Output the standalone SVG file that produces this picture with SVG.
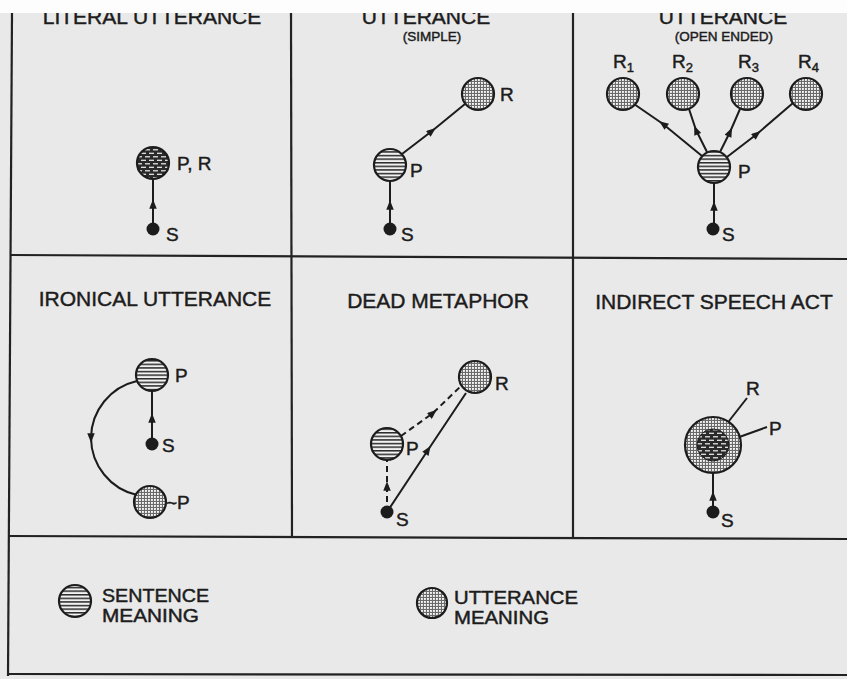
<svg xmlns="http://www.w3.org/2000/svg" width="847" height="679" viewBox="0 0 847 679">
<style>
text{font-family:"Liberation Sans",Arial,sans-serif;fill:#1c1c1c;stroke:#1c1c1c;stroke-width:0.45}
.title{font-size:21px;text-anchor:middle}
.sub{font-size:13.5px;text-anchor:middle}
.lbl{font-size:19px}
.leg{font-size:18px}
.frame{stroke:#222;stroke-width:2.2;fill:none}
.sent{fill:url(#hatch);stroke:#1c1c1c;stroke-width:2.2}
.sentd{fill:url(#hatchd);stroke:#1c1c1c;stroke-width:2.2}
.utt{fill:url(#dots);stroke:#1c1c1c;stroke-width:2.2}
.src{fill:#1c1c1c}
.con{stroke:#1c1c1c;stroke-width:2;fill:none;marker-mid:url(#ah)}
.dash{stroke-dasharray:6 4}
.lead{stroke:#1c1c1c;stroke-width:2;fill:none}
</style>
<defs>
<pattern id="hatch" width="4" height="3.6" patternUnits="userSpaceOnUse"><rect width="4" height="3.6" fill="#f2f2f2"/><rect width="4" height="1.5" fill="#2a2a2a"/></pattern>
<pattern id="hatchd" width="8" height="7" patternUnits="userSpaceOnUse"><rect width="8" height="7" fill="#2a2a2a"/><rect x="1" y="2.2" width="5" height="1.2" fill="#f0f0f0"/><rect x="5" y="5.7" width="3" height="1.2" fill="#f0f0f0"/><rect x="0" y="5.7" width="2" height="1.2" fill="#f0f0f0"/></pattern>
<pattern id="dots" width="3" height="3" patternUnits="userSpaceOnUse"><rect width="3" height="3" fill="#6a6a6a"/><rect x="1" y="1" width="1.9" height="1.9" fill="#f6f6f6"/></pattern>
<marker id="ah" viewBox="0 0 10 8" refX="5" refY="4" markerWidth="11" markerHeight="7.5" markerUnits="userSpaceOnUse" orient="auto"><path d="M0,0 L10,4 L0,8 Z" fill="#1c1c1c"/></marker>
</defs>
<rect width="847" height="679" fill="#e9e9e9"/>
<g id="grid">
<line class="frame" x1="12" y1="13" x2="8" y2="676"/>
<line class="frame" x1="291" y1="13" x2="292" y2="537"/>
<line class="frame" x1="573" y1="13" x2="573" y2="538"/>
<line class="frame" x1="10" y1="255" x2="847" y2="259"/>
<line class="frame" x1="8" y1="536" x2="847" y2="539"/>
<line class="frame" x1="7" y1="674" x2="847" y2="675"/>
</g>
<g id="titles">
<text class="title" x="152" y="24">LITERAL UTTERANCE</text>
<text class="title" x="426" y="24">UTTERANCE</text>
<text class="sub" x="432" y="41">(SIMPLE)</text>
<text class="title" x="723" y="24">UTTERANCE</text>
<text class="sub" x="724" y="41">(OPEN ENDED)</text>
<text class="title" x="155" y="306">IRONICAL UTTERANCE</text>
<text class="title" x="438" y="308">DEAD METAPHOR</text>
<text class="title" x="714" y="309">INDIRECT SPEECH ACT</text>
</g>
<g id="connectors">
<path class="con" d="M153,229 L153,204 L153,179"/>
<path class="con" d="M390,229 L390,205 L390,181"/>
<path class="con" d="M402,154 L432,131 L465,104"/>
<path class="con" d="M714,229 L714,206 L714,183"/>
<path class="con" d="M702,156 L663,124 L634,104"/>
<path class="con" d="M707,152 L696,130 L689,109"/>
<path class="con" d="M720,152 L730,132 L740,109"/>
<path class="con" d="M727,157 L757,134 L793,103"/>
<path class="con" d="M152,444 L152,418 L152,391"/>
<path class="con" d="M137,381 A59,59 0 0 0 91,438 A59,59 0 0 0 137,495"/>
<path class="con dash" d="M387,512 L387,486 L387,460"/>
<path class="con dash" d="M401,436 L433,413 L461,386"/>
<path class="con" d="M387,512 L428,450 L466,393"/>
<path class="con" d="M713,512 L713,496 L713,473"/>
<path class="lead" d="M729,421 L747,398"/>
<path class="lead" d="M731,440 L767,427"/>
</g>
<g id="n-literal">
<circle class="sentd" cx="153" cy="163" r="16"/>
<text class="lbl" x="177" y="170">P, R</text>
<circle class="src" cx="153" cy="229" r="6.5"/>
<text class="lbl" x="166" y="241">S</text>
</g>
<g id="n-simple">
<circle class="sent" cx="390" cy="165" r="16"/>
<text class="lbl" x="410" y="177">P</text>
<circle class="utt" cx="478" cy="94" r="16"/>
<text class="lbl" x="500" y="101">R</text>
<circle class="src" cx="390" cy="229" r="6.5"/>
<text class="lbl" x="401" y="241">S</text>
</g>
<g id="n-open">
<circle class="sent" cx="714" cy="167" r="16"/>
<text class="lbl" x="738" y="178">P</text>
<circle class="utt" cx="623" cy="94" r="16"/>
<text class="lbl" x="613" y="68">R<tspan font-size="13" dy="4">1</tspan></text>
<circle class="utt" cx="683" cy="94" r="16"/>
<text class="lbl" x="672" y="68">R<tspan font-size="13" dy="4">2</tspan></text>
<circle class="utt" cx="747" cy="94" r="16"/>
<text class="lbl" x="738" y="68">R<tspan font-size="13" dy="4">3</tspan></text>
<circle class="utt" cx="806" cy="94" r="16"/>
<text class="lbl" x="798" y="68">R<tspan font-size="13" dy="4">4</tspan></text>
<circle class="src" cx="713" cy="229" r="6.5"/>
<text class="lbl" x="722" y="241">S</text>
</g>
<g id="n-ironic">
<circle class="sent" cx="152" cy="375" r="16"/>
<text class="lbl" x="175" y="382">P</text>
<circle class="src" cx="152" cy="444" r="6.5"/>
<text class="lbl" x="162" y="452">S</text>
<circle class="utt" cx="150" cy="502" r="16"/>
<text class="lbl" x="166" y="509">~P</text>
</g>
<g id="n-dead">
<circle class="sent" cx="387" cy="444" r="16"/>
<text class="lbl" x="406" y="455">P</text>
<circle class="utt" cx="475" cy="377" r="16"/>
<text class="lbl" x="495" y="390">R</text>
<circle class="src" cx="387" cy="512" r="6.5"/>
<text class="lbl" x="396" y="526">S</text>
</g>
<g id="n-indirect">
<circle class="utt" cx="713" cy="445" r="28"/>
<circle cx="713" cy="445" r="16" fill="url(#hatchd)" stroke="#1c1c1c" stroke-width="1"/>
<text class="lbl" x="746" y="395">R</text>
<text class="lbl" x="769" y="435">P</text>
<circle class="src" cx="713" cy="512" r="6.5"/>
<text class="lbl" x="721" y="527">S</text>
</g>
<g id="legend">
<circle class="sent" cx="75" cy="601" r="16"/>
<text class="leg" x="102" y="602" textLength="107" lengthAdjust="spacingAndGlyphs">SENTENCE</text>
<text class="leg" x="102" y="622" textLength="97" lengthAdjust="spacingAndGlyphs">MEANING</text>
<circle class="utt" cx="432" cy="603" r="15"/>
<text class="leg" x="454" y="604" textLength="124" lengthAdjust="spacingAndGlyphs">UTTERANCE</text>
<text class="leg" x="454" y="624" textLength="95" lengthAdjust="spacingAndGlyphs">MEANING</text>
</g>
<rect x="0" y="0" width="847" height="13" fill="#fdfdfd"/>
</svg>
